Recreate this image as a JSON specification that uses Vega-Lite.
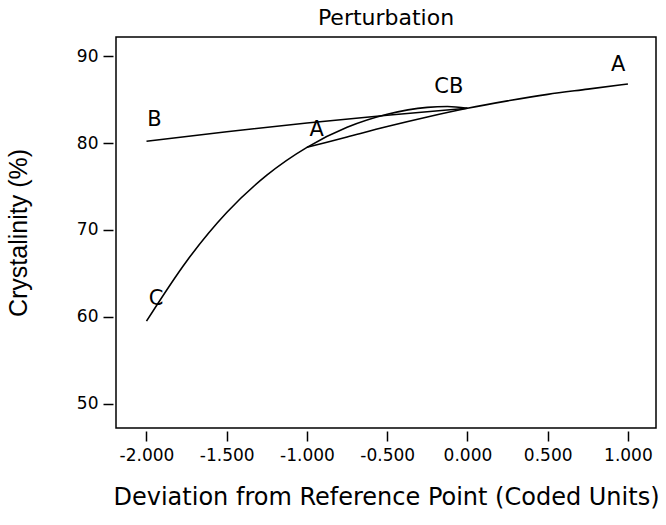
{
  "$schema": "https://vega.github.io/schema/vega-lite/v6.json",
  "autosize": {"type": "none"},
  "width": 540,
  "height": 391,
  "padding": {"left": 116, "top": 37, "right": 10, "bottom": 97},
  "background": "white",
  "config": {
    "view": {"stroke": "black", "strokeWidth": 1.5},
    "font": "DejaVu Sans"
  },
  "title": {
    "text": "Perturbation",
    "font": "DejaVu Sans",
    "fontSize": 22,
    "fontWeight": "normal",
    "color": "black",
    "anchor": "middle",
    "offset": 7
  },
  "datasets": {
    "curves": [
      {"factor": "A", "x": -1.0, "y": 79.5},
      {"factor": "A", "x": -0.75, "y": 80.7},
      {"factor": "A", "x": -0.5, "y": 81.9},
      {"factor": "A", "x": -0.25, "y": 83.0},
      {"factor": "A", "x": 0.0, "y": 84.0},
      {"factor": "A", "x": 0.25, "y": 84.85},
      {"factor": "A", "x": 0.5, "y": 85.6},
      {"factor": "A", "x": 0.75, "y": 86.2},
      {"factor": "A", "x": 1.0, "y": 86.8},
      {"factor": "B", "x": -2.0, "y": 80.2},
      {"factor": "B", "x": -1.5, "y": 81.3},
      {"factor": "B", "x": -1.0, "y": 82.3},
      {"factor": "B", "x": -0.5, "y": 83.2},
      {"factor": "B", "x": 0.0, "y": 84.0},
      {"factor": "C", "x": -2.0, "y": 59.5},
      {"factor": "C", "x": -1.75, "y": 66.4},
      {"factor": "C", "x": -1.5, "y": 72.0},
      {"factor": "C", "x": -1.25, "y": 76.3},
      {"factor": "C", "x": -1.0, "y": 79.5},
      {"factor": "C", "x": -0.75, "y": 81.8},
      {"factor": "C", "x": -0.5, "y": 83.3},
      {"factor": "C", "x": -0.25, "y": 84.1},
      {"factor": "C", "x": -0.125, "y": 84.2},
      {"factor": "C", "x": 0.0, "y": 84.0}
    ],
    "labels": [
      {"label": "B", "x": -1.95, "y": 82.7},
      {"label": "A", "x": -0.94, "y": 81.55},
      {"label": "CB", "x": -0.116, "y": 86.5},
      {"label": "A", "x": 0.94, "y": 89.0},
      {"label": "C", "x": -1.94, "y": 62.0}
    ]
  },
  "layer": [
    {
      "data": {"name": "curves"},
      "mark": {"type": "line", "color": "black", "strokeWidth": 1.6, "interpolate": "monotone"},
      "encoding": {
        "x": {
          "field": "x",
          "type": "quantitative",
          "scale": {"domain": [-2.19, 1.175], "nice": false, "zero": false},
          "axis": {
            "values": [-2, -1.5, -1, -0.5, 0, 0.5, 1],
            "labelExpr": "replace(format(datum.value, '.3f'), '\u2212', '-')",
            "title": "Deviation from Reference Point (Coded Units)",
            "domain": false,
            "grid": false,
            "offset": 3,
            "tickSize": 10,
            "tickColor": "black",
            "tickWidth": 1.5,
            "labelFont": "DejaVu Sans",
            "labelFontSize": 17,
            "labelColor": "black",
            "labelPadding": 6,
            "titleFont": "DejaVu Sans",
            "titleFontSize": 24,
            "titleFontWeight": "normal",
            "titleColor": "black",
            "titlePadding": 22
          }
        },
        "y": {
          "field": "y",
          "type": "quantitative",
          "scale": {"domain": [47.2, 92.2], "nice": false, "zero": false},
          "axis": {
            "values": [50, 60, 70, 80, 90],
            "title": "Crystalinity (%)",
            "domain": false,
            "grid": false,
            "offset": 3,
            "tickSize": 10,
            "tickColor": "black",
            "tickWidth": 1.5,
            "labelFont": "DejaVu Sans",
            "labelFontSize": 17,
            "labelColor": "black",
            "labelPadding": 5,
            "titleFont": "Liberation Sans",
            "titleFontSize": 25,
            "titleFontWeight": "normal",
            "titleColor": "black",
            "titlePadding": 45
          }
        },
        "detail": {"field": "factor", "type": "nominal"}
      }
    },
    {
      "data": {"name": "labels"},
      "mark": {"type": "text", "font": "DejaVu Sans", "fontSize": 21, "color": "black", "align": "center", "baseline": "middle"},
      "encoding": {
        "x": {"field": "x", "type": "quantitative"},
        "y": {"field": "y", "type": "quantitative"},
        "text": {"field": "label", "type": "nominal"}
      }
    }
  ]
}
